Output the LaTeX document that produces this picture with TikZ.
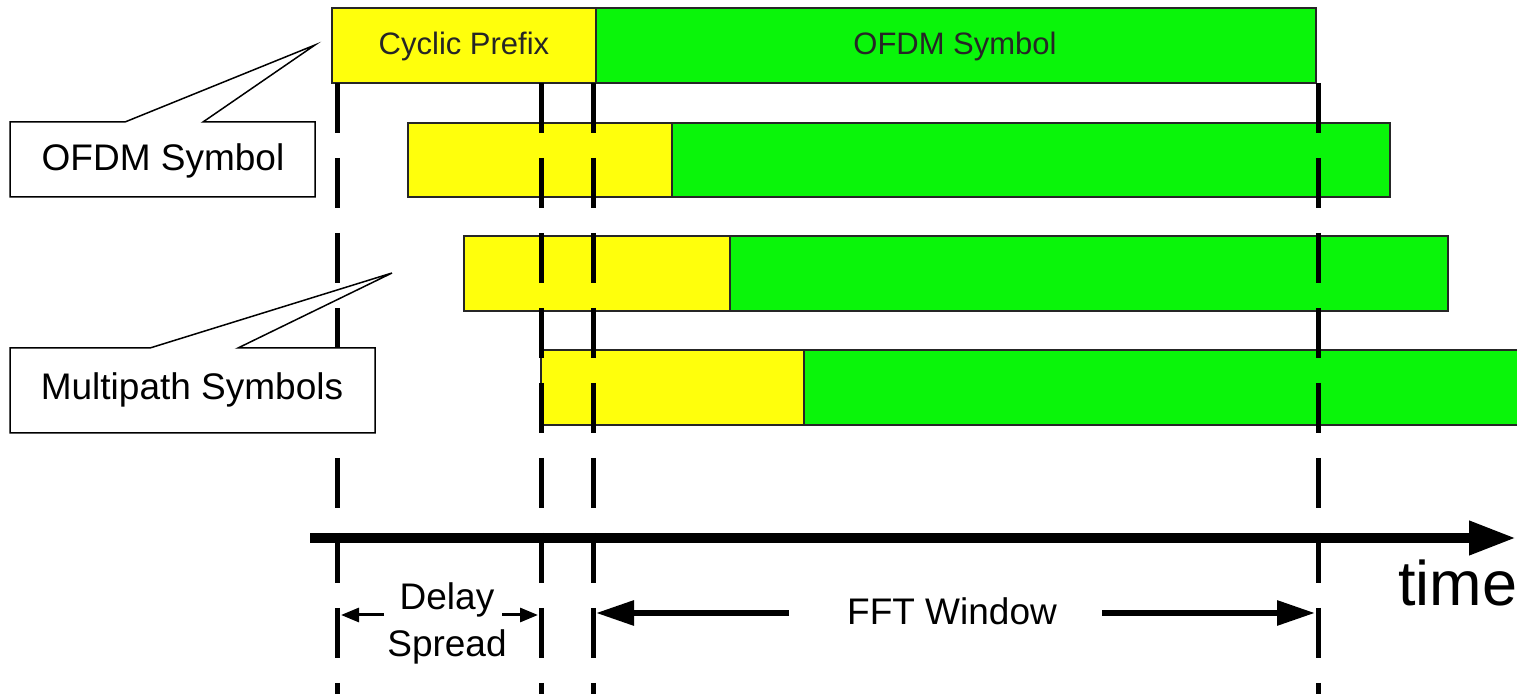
\documentclass[tikz,border=0pt]{standalone}
\usepackage{fontspec}
\setmainfont{Liberation Sans}
\usetikzlibrary{arrows.meta}
\definecolor{cpyellow}{RGB}{255,255,12}
\definecolor{symgreen}{RGB}{10,245,10}
\begin{document}
\begin{tikzpicture}[x=0.5pt,y=-0.5pt,
  cp/.style={fill=cpyellow,draw=black!85,line width=0.75pt},
  sym/.style={fill=symgreen,draw=black!85,line width=0.75pt},
  guide/.style={line width=2.5pt,dash pattern=on 25pt off 12.5pt},
  callout/.style={fill=white,draw=black,line width=0.75pt},
  lbl/.style={font=\fontsize{18.5}{22}\selectfont,inner sep=0pt,anchor=base},
  bartxt/.style={font=\fontsize{15.5}{18}\selectfont,inner sep=0pt,anchor=base,text=black!85},
  axisline/.style={line width=5pt,-{Triangle[length=23.5pt,width=16pt]}},
  fftarrow/.style={line width=3pt,-{Triangle[length=19pt,width=12pt]}},
  delayarrow/.style={line width=1.5pt,-{Triangle[length=9pt,width=7pt]}}
]
\clip (0,0) rectangle (1517,694);
\fill[white] (0,0) rectangle (1517,694);

% bars
\draw[cp]  (332,8) rectangle (596,83);
\draw[sym] (596,8) rectangle (1316,83);
\draw[cp]  (408,123) rectangle (672,197);
\draw[sym] (672,123) rectangle (1390,197);
\draw[cp]  (464,236) rectangle (730,311);
\draw[sym] (730,236) rectangle (1448,311);
\draw[cp]  (541,350) rectangle (804,425);
\draw[sym] (804,350) rectangle (1540,425);

\node[bartxt] (cptext) at (464,55) {Cyclic Prefix};
\node[bartxt] (symtext) at (955,55) {OFDM Symbol};

% guide lines
\coordinate (g1t) at (337,83);  \coordinate (g1b) at (337,700);
\coordinate (g2t) at (541,83);  \coordinate (g2b) at (541,700);
\coordinate (g3t) at (593,83);  \coordinate (g3b) at (593,700);
\coordinate (g4t) at (1318,83); \coordinate (g4b) at (1318,700);
\draw[guide] (g1t) -- (g1b);
\draw[guide] (g2t) -- (g2b);
\draw[guide] (g3t) -- (g3b);
\draw[guide] (g4t) -- (g4b);

% callouts
\draw[callout] (10,122) -- (125,122) -- (315,45) -- (203,122) -- (315,122) -- (315,197) -- (10,197) -- cycle;
\node[lbl] (ofdmlbl) at (163,171) {OFDM Symbol};
\draw[callout] (10,348) -- (150,348) -- (392,273) -- (238,348) -- (375,348) -- (375,433) -- (10,433) -- cycle;
\node[lbl] (multilbl) at (192,400) {Multipath Symbols};

% time axis
\coordinate (ax0) at (310,538);
\coordinate (ax1) at (1516,538);
\draw[axisline] (ax0) -- (ax1);
\node[font=\fontsize{31.5}{36}\selectfont,inner sep=0pt,anchor=base west] (timelbl) at (1398,606) {time};

% delay spread
\node[lbl] (delay) at (447,610) {Delay};
\node[lbl] (spread) at (447,657) {Spread};
\coordinate (dl0) at (384,615); \coordinate (dl1) at (341,615);
\coordinate (dr0) at (502,615); \coordinate (dr1) at (538,615);
\draw[delayarrow] (dl0) -- (dl1);
\draw[delayarrow] (dr0) -- (dr1);

% FFT window
\node[lbl] (fft) at (952,625) {FFT Window};
\coordinate (fl0) at (789,613); \coordinate (fl1) at (596,613);
\coordinate (fr0) at (1102,613); \coordinate (fr1) at (1315,613);
\draw[fftarrow] (fl0) -- (fl1);
\draw[fftarrow] (fr0) -- (fr1);
\end{tikzpicture}
\end{document}
